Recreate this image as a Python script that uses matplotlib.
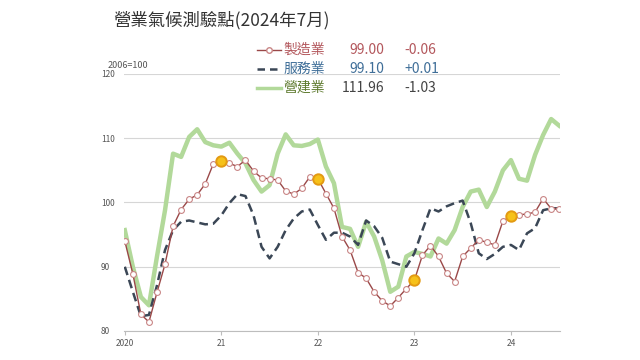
import matplotlib
matplotlib.use("Agg")
import matplotlib.pyplot as plt
from matplotlib.lines import Line2D

plt.rcParams['font.family'] = ['Noto Sans CJK TC', 'DejaVu Sans']

# monthly, Jan 2020 .. Jul 2024
manufacturing = [94.0, 88.9, 82.6, 81.4, 86.0, 90.4, 96.3, 98.9, 100.5, 101.2, 102.9, 106.0,
                 106.5, 106.1, 105.6, 106.6, 104.9, 103.8, 103.7, 103.5, 101.8, 101.3, 102.2, 104.0,
                 103.7, 101.4, 99.1, 94.7, 92.6, 89.1, 88.2, 86.1, 84.7, 83.9, 85.2, 86.6,
                 87.9, 91.8, 93.3, 91.6, 89.0, 87.7, 91.6, 92.9, 94.2, 93.8, 93.4, 97.1,
                 97.9, 98.1, 98.2, 98.5, 100.6, 99.06, 99.00]
services = [90.0, 86.1, 82.3, 82.5, 87.1, 92.6, 95.7, 97.0, 97.2, 96.9, 96.6, 96.7,
            98.0, 99.9, 101.3, 101.0, 98.0, 93.1, 91.3, 93.1, 95.7, 97.5, 98.6, 98.9,
            96.5, 94.2, 95.3, 95.3, 94.7, 93.4, 97.2, 96.3, 94.5, 90.8, 90.4, 90.0,
            92.1, 95.7, 99.1, 98.6, 99.4, 99.9, 100.3, 96.8, 92.1, 91.2, 92.0, 93.1,
            93.4, 92.6, 95.2, 96.0, 98.8, 99.09, 99.10]
construction = [95.7, 90.0, 85.3, 84.0, 91.6, 98.8, 107.6, 107.1, 110.2, 111.4, 109.4, 108.9,
                108.7, 109.3, 107.6, 106.1, 103.5, 101.7, 102.7, 107.6, 110.6, 108.9, 108.8, 109.1,
                109.8, 105.6, 103.0, 96.2, 95.9, 93.1, 97.0, 94.7, 91.0, 86.1, 86.9, 91.6,
                92.3, 92.0, 91.6, 94.4, 93.6, 95.7, 99.3, 101.7, 102.0, 99.3, 101.7, 105.0,
                106.6, 103.7, 103.4, 107.4, 110.5, 112.99, 111.96]
year_ticks = [0, 12, 24, 36, 48]
year_labels = ['2020', '21', '22', '23', '24']
highlight = [12, 24, 36, 48]
legend_names = ['製造業', '服務業', '營建業']
legend_values = ['99.00', '99.10', '111.96']
legend_changes = ['-0.06', '+0.01', '-1.03']

c_man = '#9a4848'
c_ser = '#3b4756'
c_con = '#b2d99a'

fig = plt.figure(figsize=(6.4, 3.6), dpi=100)
ax = fig.add_axes([124/640, 1-331/360, 436/640, 257/360])
x = list(range(len(manufacturing)))

ax.plot(x, construction, color=c_con, lw=3.2, solid_joinstyle='round', zorder=2)
ax.plot(x, services, color=c_ser, lw=1.8, ls=(0, (3.5, 2)), zorder=3)
ax.plot(x, manufacturing, color=c_man, lw=1.0, marker='o', ms=4.2, mfc='white',
        mec='#c98686', mew=0.8, zorder=4)
ax.plot([x[i] for i in highlight], [manufacturing[i] for i in highlight], ls='none',
        marker='o', ms=7.5, mfc='#f6c11a', mec='#e39a12', mew=1.4, zorder=5)

ax.set_xlim(-0.1, 54.1)
ax.set_ylim(80, 120)
ax.set_yticks([80, 90, 100, 110, 120])
ax.set_xticks(year_ticks)
ax.set_xticklabels(year_labels)
ax.grid(axis='y', color='#d6d6d6', lw=0.8)
for s in ['top', 'right', 'left']:
    ax.spines[s].set_visible(False)
ax.spines['bottom'].set_color('#bdbdbd')
ax.tick_params(axis='y', length=0, labelsize=6, labelcolor='#555555', pad=4)
ax.tick_params(axis='x', length=3, color='#bdbdbd', labelsize=6, labelcolor='#555555', pad=3)
for lab in ax.get_yticklabels():
    lab.set_horizontalalignment('left')
    lab.set_x(-0.04)

fig.text(113/640, 1-20/360, '營業氣候測驗點(2024年7月)', fontsize=12.5, color='#333333', va='center')
fig.text(108/640, 1-66/360, '2006=100', fontsize=6.5, color='#555555', va='center')

# legend
rows_y = [50, 69, 88]
name_cols = ['#b3575c', '#3f6e98', '#5e7a2e']
val_cols = ['#b3575c', '#3f6e98', '#444444']
chg_cols = ['#b3575c', '#3f6e98', '#444444']
samples = [dict(color=c_man, lw=1.0, marker='o', ms=4, mfc='white', mec='#c98686', markevery=[1]),
           dict(color=c_ser, lw=1.8, ls=(0, (3, 2))),
           dict(color=c_con, lw=2.5)]
for i in range(3):
    yy = 1 - rows_y[i]/360
    fig.add_artist(Line2D([257/640, 269/640, 281/640], [yy, yy, yy], **samples[i]))
    fig.text(283/640, yy, legend_names[i], fontsize=10, color=name_cols[i], va='center')
    fig.text(384/640, yy, legend_values[i], fontsize=10, color=val_cols[i], va='center', ha='right')
    fig.text(404/640, yy, legend_changes[i], fontsize=10, color=chg_cols[i], va='center')

fig.savefig('out.png', dpi=100)
